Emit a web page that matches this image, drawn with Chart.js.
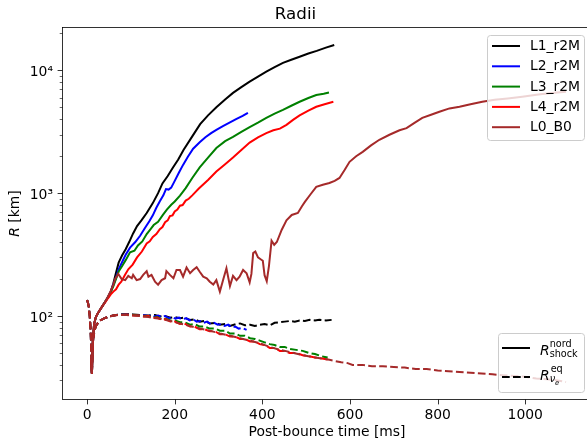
<!DOCTYPE html>
<html>
<head>
<meta charset="utf-8">
<title>Radii</title>
<script src="https://cdn.jsdelivr.net/npm/chart.js"></script>
<style>
  html, body { margin: 0; padding: 0; background: #fff; overflow: hidden; }
  canvas { display: block; }
</style>
</head>
<body>
<canvas id="radii" width="597" height="439"></canvas>
<script>
// models and colours
const models = ['L1_r2M', 'L2_r2M', 'L3_r2M', 'L4_r2M', 'L0_B0'];
const colors = ['#000000', '#0000ff', '#008000', '#ff0000', '#a52a2a'];

// axis ticks
const xTicks = [0, 200, 400, 600, 800, 1000];
const xTickLabels = ['0', '200', '400', '600', '800', '1000'];
const yMajor = [100, 1000, 10000];
const yMajorLabels = ['10²', '10³', '10⁴'];
const yMinor = [30, 40, 50, 60, 70, 80, 90, 200, 300, 400, 500, 600, 700, 800, 900,
  2000, 3000, 4000, 5000, 6000, 7000, 8000, 9000, 20000];

// shock radius [km] vs post-bounce time [ms]
const shockT_L1 = [9, 11, 13, 16, 20, 25, 30, 36, 42, 48, 54, 60, 66, 72, 80, 88, 96, 105, 114, 124, 136, 150, 162, 172, 184, 196, 208, 220, 240, 258, 276, 295, 315, 333, 352, 371, 390, 409, 428, 447, 466, 485, 505, 524, 545, 564];
const shockR_L1 = [45, 34, 62, 86, 98, 106, 113, 122, 132, 143, 158, 185, 225, 272, 312, 350, 400, 470, 540, 600, 690, 830, 1000, 1200, 1380, 1620, 1880, 2250, 2900, 3650, 4300, 5000, 5800, 6550, 7300, 8100, 8900, 9750, 10600, 11500, 12200, 12900, 13700, 14400, 15300, 16100];

const shockT_L2 = [9, 11, 13, 16, 20, 25, 30, 36, 42, 48, 54, 60, 66, 72, 80, 88, 98, 110, 121, 132, 142, 150, 158, 166, 174, 180, 186, 192, 200, 210, 219, 230, 242, 257, 270, 283, 295, 310, 325, 340, 355, 367];
const shockR_L2 = [45, 34, 62, 86, 98, 106, 113, 122, 132, 143, 158, 180, 205, 240, 275, 315, 360, 400, 450, 520, 590, 660, 760, 860, 960, 1080, 1070, 1110, 1260, 1480, 1700, 1980, 2300, 2600, 2850, 3080, 3280, 3520, 3750, 4000, 4250, 4500];

const shockT_L3 = [9, 11, 13, 16, 20, 25, 30, 36, 42, 48, 54, 60, 66, 72, 80, 88, 98, 108, 116, 126, 136, 144, 152, 162, 173, 182, 192, 200, 212, 225, 240, 257, 276, 295, 315, 333, 352, 371, 390, 409, 428, 447, 466, 485, 505, 523, 540, 552];
const shockR_L3 = [45, 34, 62, 86, 98, 106, 113, 122, 132, 143, 156, 175, 200, 230, 255, 285, 330, 340, 375, 405, 465, 505, 550, 585, 665, 735, 805, 855, 955, 1100, 1330, 1620, 1950, 2330, 2650, 2870, 3150, 3450, 3750, 4100, 4450, 4770, 5150, 5550, 5950, 6300, 6450, 6600];

const shockT_L4 = [9, 11, 13, 16, 20, 25, 30, 36, 42, 48, 54, 60, 66, 72, 78, 86, 94, 104, 114, 125, 136, 143, 150, 158, 166, 172, 178, 184, 189, 195, 200, 206, 212, 218, 225, 232, 240, 255, 276, 295, 315, 333, 352, 371, 390, 409, 425, 440, 455, 470, 485, 505, 523, 542, 562];
const shockR_L4 = [45, 34, 62, 86, 98, 106, 113, 122, 130, 140, 150, 158, 165, 180, 190, 215, 240, 262, 300, 335, 390, 405, 440, 465, 510, 530, 580, 600, 650, 660, 710, 735, 790, 800, 870, 900, 960, 1090, 1280, 1500, 1720, 1950, 2250, 2580, 2850, 3080, 3250, 3350, 3600, 3950, 4300, 4700, 5050, 5300, 5550];

const shockT_L0 = [9, 11, 13, 16, 20, 25, 30, 38, 46, 54, 60, 64, 71, 79, 87, 94, 102, 105, 113, 121, 128, 136, 140, 147, 155, 162, 170, 178, 181, 189, 197, 204, 212, 219, 227, 235, 242, 250, 257, 265, 273, 280, 288, 295, 303, 311, 318, 326, 333, 341, 348, 356, 364, 371, 375, 379, 384, 390, 396, 401, 405, 410, 415, 421, 427, 433, 444, 455, 467, 481, 490, 497, 510, 523, 538, 553, 565, 576, 588, 599, 614, 629, 648, 667, 690, 713, 729, 748, 765, 785, 804, 827, 850, 875, 902, 930, 960, 993, 1030, 1060, 1093];
const shockR_L0 = [45, 34, 62, 86, 98, 106, 113, 125, 140, 160, 180, 200, 220, 200, 196, 212, 203, 216, 196, 200, 216, 232, 209, 216, 190, 180, 196, 203, 232, 216, 203, 237, 237, 209, 248, 223, 237, 250, 229, 209, 203, 190, 180, 196, 158, 200, 245, 175, 212, 196, 209, 237, 223, 188, 220, 325, 335, 300, 290, 282, 215, 192, 255, 410, 380, 400, 502, 600, 665, 690, 780, 850, 980, 1125, 1170, 1210, 1260, 1330, 1550, 1800, 2000, 2170, 2450, 2720, 2990, 3250, 3380, 3750, 4100, 4350, 4600, 4900, 5050, 5300, 5550, 5750, 5900, 6100, 6350, 6550, 6700];

// electron-neutrino sphere radius [km] vs post-bounce time [ms]
const nuT_L1 = [0, 2, 4, 6, 8, 10, 11, 12, 14, 17, 20, 25, 30, 40, 50, 60, 75, 90, 105, 121, 140, 155, 166, 178, 190, 200, 212, 222, 235, 245, 257, 268, 280, 292, 303, 315, 326, 340, 349, 360, 372, 383, 394, 405, 417, 428, 440, 451, 462, 474, 485, 497, 508, 520, 530, 545, 558];
const nuR_L1 = [135, 128, 118, 100, 78, 48, 33, 52, 66, 76, 83, 88, 92, 96, 99, 101, 103, 104, 103, 102, 101, 102, 99, 100, 97, 98, 96, 97, 93, 94, 90, 91, 87, 88, 85, 86, 83, 86, 87, 84, 85, 83, 85, 86, 84, 88, 89, 90, 91, 90, 92, 91, 93, 92, 93, 92, 93];

const nuT_L2 = [0, 2, 4, 6, 8, 10, 11, 12, 14, 17, 20, 25, 30, 40, 50, 60, 75, 90, 105, 121, 140, 148, 155, 163, 170, 178, 186, 194, 202, 210, 218, 226, 234, 242, 250, 258, 266, 274, 282, 290, 298, 306, 314, 322, 330, 338, 346, 354, 364];
const nuR_L2 = [135, 128, 118, 100, 78, 48, 33, 52, 66, 76, 83, 88, 92, 96, 99, 101, 103, 104, 102, 102, 100, 102, 99, 101, 98, 100, 96, 98, 95, 97, 94, 96, 92, 94, 90, 91, 88, 90, 86, 88, 85, 86, 83, 85, 81, 82, 79, 80, 77];

const nuT_L3 = [0, 2, 4, 6, 8, 10, 11, 12, 14, 17, 20, 25, 30, 40, 50, 60, 75, 90, 105, 121, 130, 140, 150, 160, 170, 180, 190, 200, 212, 222, 235, 245, 257, 268, 280, 292, 303, 315, 326, 338, 349, 360, 372, 383, 394, 405, 417, 428, 440, 451, 462, 477, 492, 506, 520, 535, 549];
const nuR_L3 = [135, 128, 118, 100, 78, 48, 33, 52, 66, 76, 83, 88, 92, 96, 99, 101, 103, 103, 102, 101, 100, 100, 97, 98, 94, 95, 92, 92, 89, 89, 85, 86, 82, 82, 79, 79, 76, 76, 72, 72, 69, 69, 66, 65, 63, 61, 59, 58, 56, 56, 54, 53, 52, 50, 49, 47, 46];

const nuT_L4 = [0, 2, 4, 6, 8, 10, 11, 12, 14, 17, 20, 25, 30, 40, 50, 60, 75, 90, 105, 121, 130, 140, 150, 160, 170, 180, 190, 200, 212, 222, 235, 245, 257, 268, 280, 292, 303, 315, 326, 338, 349, 360, 372, 383, 394, 405, 417, 428, 440, 451, 462, 477, 492, 506, 520, 536, 553];
const nuR_L4 = [135, 128, 118, 100, 78, 48, 33, 52, 66, 76, 83, 88, 92, 96, 99, 101, 102, 103, 101, 101, 99, 100, 96, 97, 93, 94, 90, 90, 86, 87, 82, 82, 78, 78, 75, 75, 71, 71, 68, 68, 65, 65, 62, 62, 59, 58, 55, 55, 52, 52, 50, 50, 48, 47, 46, 45, 44];

const nuT_L0 = [0, 2, 4, 6, 8, 10, 11, 12, 14, 17, 20, 25, 30, 40, 50, 60, 75, 90, 105, 121, 140, 166, 190, 212, 235, 257, 280, 303, 326, 349, 372, 394, 417, 440, 462, 492, 520, 553, 566, 580, 593, 606, 628, 650, 675, 700, 725, 750, 775, 800, 825, 850, 875, 900, 925, 948, 975, 1000, 1025, 1050, 1070, 1093];
const nuR_L0 = [135, 128, 118, 100, 78, 48, 33, 52, 66, 76, 83, 88, 92, 96, 99, 101, 102, 102, 101, 100, 98, 95, 91, 87, 83, 79, 76, 72, 69, 66, 63, 60, 56, 53, 51, 48, 46, 44, 43, 42, 41.5, 40, 40, 39, 39, 38.5, 38, 37, 37, 36, 35.5, 35, 34.5, 34, 33.5, 33, 32.5, 32, 31, 30.5, 30, 29];

const shockT = [shockT_L1, shockT_L2, shockT_L3, shockT_L4, shockT_L0];
const shockR = [shockR_L1, shockR_L2, shockR_L3, shockR_L4, shockR_L0];
const nuT = [nuT_L1, nuT_L2, nuT_L3, nuT_L4, nuT_L0];
const nuR = [nuR_L1, nuR_L2, nuR_L3, nuR_L4, nuR_L0];

const FONT = '"DejaVu Sans", sans-serif';
const FS = 13.9;

const toPoints = (t, r) => t.map((v, i) => ({x: v, y: r[i]}));

// matplotlib order: shock then nu-sphere per model, later ones on top
const datasets = [];
models.forEach((name, i) => {
  datasets.push({
    label: name,
    data: toPoints(shockT[i], shockR[i]),
    borderColor: colors[i],
    borderWidth: 2,
    pointRadius: 0,
    fill: false,
    order: -2 * i
  });
  datasets.push({
    label: name + ' nu',
    data: toPoints(nuT[i], nuR[i]),
    borderColor: colors[i],
    borderWidth: 2,
    borderDash: [7.7, 3.3],
    pointRadius: 0,
    fill: false,
    order: -2 * i - 1
  });
});

function hline(ctx, x1, x2, y) {
  ctx.beginPath();
  ctx.moveTo(x1, y);
  ctx.lineTo(x2, y);
  ctx.stroke();
}

function legendBox(ctx, x, y, w, h) {
  ctx.beginPath();
  ctx.roundRect(x + 0.5, y + 0.5, w, h, 3);
  ctx.fillStyle = 'rgba(255,255,255,0.8)';
  ctx.fill();
  ctx.strokeStyle = '#cccccc';
  ctx.lineWidth = 1;
  ctx.stroke();
}

const decor = {
  id: 'decor',
  afterDraw(chart) {
    const {ctx, chartArea: a, scales: {x, y}} = chart;
    ctx.save();

    // frame
    ctx.strokeStyle = '#000';
    ctx.lineWidth = 0.8;
    const L = Math.round(a.left) - 0.5, R = Math.round(a.right) + 0.5;
    const T = Math.round(a.top) - 0.5, B = Math.round(a.bottom) + 0.5;
    ctx.strokeRect(L, T, R - L, B - T);

    // tick marks
    xTicks.forEach(v => {
      const px = Math.round(x.getPixelForValue(v)) + 0.5;
      ctx.beginPath(); ctx.moveTo(px, B); ctx.lineTo(px, B + 4.9); ctx.stroke();
    });
    yMajor.forEach(v => {
      const py = Math.round(y.getPixelForValue(v)) + 0.5;
      hline(ctx, L - 4.9, L, py);
    });
    ctx.lineWidth = 0.6;
    yMinor.forEach(v => {
      const py = Math.round(y.getPixelForValue(v)) + 0.5;
      hline(ctx, L - 2.8, L, py);
    });

    // y axis title with italic R
    ctx.fillStyle = '#000';
    ctx.save();
    ctx.translate(18.5, (a.top + a.bottom) / 2);
    ctx.rotate(-Math.PI / 2);
    ctx.textBaseline = 'alphabetic';
    ctx.font = `italic ${FS}px ${FONT}`;
    const wR = ctx.measureText('R').width;
    ctx.font = `${FS}px ${FONT}`;
    const wRest = ctx.measureText(' [km]').width;
    const cx = -(wR + wRest) / 2;
    ctx.font = `italic ${FS}px ${FONT}`;
    ctx.fillText('R', cx, 0);
    ctx.font = `${FS}px ${FONT}`;
    ctx.fillText(' [km]', cx + wR, 0);
    ctx.restore();

    // legend of models (upper right)
    const r1 = Math.round(a.right) - 7, t1 = Math.round(a.top) + 7;
    legendBox(ctx, r1 - 97, t1, 97, 105);
    ctx.font = `${FS}px ${FONT}`;
    ctx.textBaseline = 'alphabetic';
    models.forEach((name, i) => {
      const ry = t1 + 11 + i * 20.3;
      ctx.strokeStyle = colors[i];
      ctx.lineWidth = 2;
      ctx.setLineDash([]);
      hline(ctx, r1 - 92, r1 - 64, ry);
      ctx.fillStyle = '#000';
      ctx.fillText(name, r1 - 54, ry + 4);
    });

    // legend of line styles (lower right)
    const b2 = Math.round(a.bottom) - 7;
    const l2 = r1 - 86;
    legendBox(ctx, l2, b2 - 59, 86, 59);
    ctx.strokeStyle = '#000';
    ctx.lineWidth = 2;
    const row1 = b2 - 44, row2 = b2 - 15;
    hline(ctx, l2 + 4, l2 + 32, row1);
    ctx.setLineDash([7.7, 3.3]);
    hline(ctx, l2 + 4, l2 + 32, row2);
    ctx.setLineDash([]);

    const tx = l2 + 42;
    ctx.fillStyle = '#000';
    ctx.font = `italic ${FS}px ${FONT}`;
    const rw = ctx.measureText('R').width;
    ctx.fillText('R', tx, row1 + 7);
    ctx.font = `9.7px ${FONT}`;
    ctx.fillText('nord', tx + rw, row1 - 1.3);
    ctx.fillText('shock', tx + rw, row1 + 8.7);

    ctx.font = `italic ${FS}px ${FONT}`;
    ctx.fillText('R', tx, row2 + 3);
    ctx.font = `9.7px ${FONT}`;
    ctx.fillText('eq', tx + rw + 1, row2 - 4.7);
    ctx.font = `italic 9.7px ${FONT}`;
    ctx.fillText('ν', tx + rw, row2 + 4.7);
    const nw = ctx.measureText('ν').width;
    ctx.font = `italic 6.8px ${FONT}`;
    ctx.fillText('e', tx + rw + nw, row2 + 8);

    ctx.restore();
  }
};

new Chart(document.getElementById('radii'), {
  type: 'line',
  data: {datasets: datasets},
  options: {
    responsive: false,
    animation: false,
    parsing: false,
    layout: {padding: {left: 0, right: 6, top: 0, bottom: 0}},
    plugins: {
      legend: {display: false},
      tooltip: {enabled: false},
      title: {
        display: true,
        text: 'Radii',
        color: '#000',
        font: {family: FONT, size: 16.7, weight: 'normal'},
        padding: {top: 5, bottom: 3}
      }
    },
    scales: {
      x: {
        type: 'linear',
        min: -55,
        max: 1150,
        afterBuildTicks: s => { s.ticks = xTicks.map(v => ({value: v})); },
        afterFit: s => { s.height = 40; },
        grid: {display: false, drawTicks: false},
        border: {display: false},
        ticks: {
          color: '#000',
          font: {family: FONT, size: FS},
          padding: 8.5,
          maxRotation: 0,
          autoSkip: false,
          callback: (v, i) => xTickLabels[i]
        },
        title: {
          display: true,
          text: 'Post-bounce time [ms]',
          color: '#000',
          font: {family: FONT, size: FS, lineHeight: 1},
          padding: {top: 0, bottom: 0}
        }
      },
      y: {
        type: 'logarithmic',
        min: 21.1,
        max: 22100,
        afterBuildTicks: s => {
          s.ticks = yMinor.concat(yMajor).sort((p, q) => p - q).map(v => ({value: v, major: yMajor.includes(v)}));
        },
        afterFit: s => { s.width = 63; },
        grid: {display: false, drawTicks: false},
        border: {display: false},
        ticks: {
          color: '#000',
          font: {family: FONT, size: FS},
          padding: 10,
          labelOffset: 2,
          autoSkip: false,
          callback: v => {
            const k = yMajor.indexOf(v);
            return k >= 0 ? yMajorLabels[k] : '';
          }
        }
      }
    }
  },
  plugins: [decor]
});
</script>
</body>
</html>
